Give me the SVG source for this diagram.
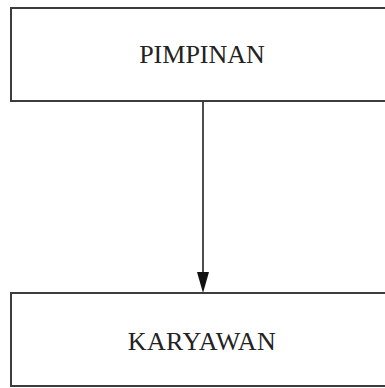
<svg xmlns="http://www.w3.org/2000/svg" width="385" height="388" viewBox="0 0 385 388">
<style>
.box{fill:#ffffff;stroke:#3c3c3c;stroke-width:2}
.lbl{font-family:"Liberation Serif","Times New Roman",serif;font-size:26px;fill:#222;text-anchor:middle}
.conn{stroke:#111;stroke-width:1.5;fill:none}
.head{fill:#111}
</style>
<rect width="385" height="388" fill="#ffffff"/>
<g id="connectors">
<line class="conn" x1="203" y1="102" x2="203" y2="274"/>
<polygon class="head" points="197,272 209,272 203,293"/>
</g>
<g id="pimpinan">
<rect class="box" x="11" y="8" width="390" height="93"/>
<text class="lbl" x="202" y="63">PIMPINAN</text>
</g>
<g id="karyawan">
<rect class="box" x="11" y="293" width="390" height="93"/>
<text class="lbl" x="202" y="350" letter-spacing="0.4">KARYAWAN</text>
</g>
</svg>
